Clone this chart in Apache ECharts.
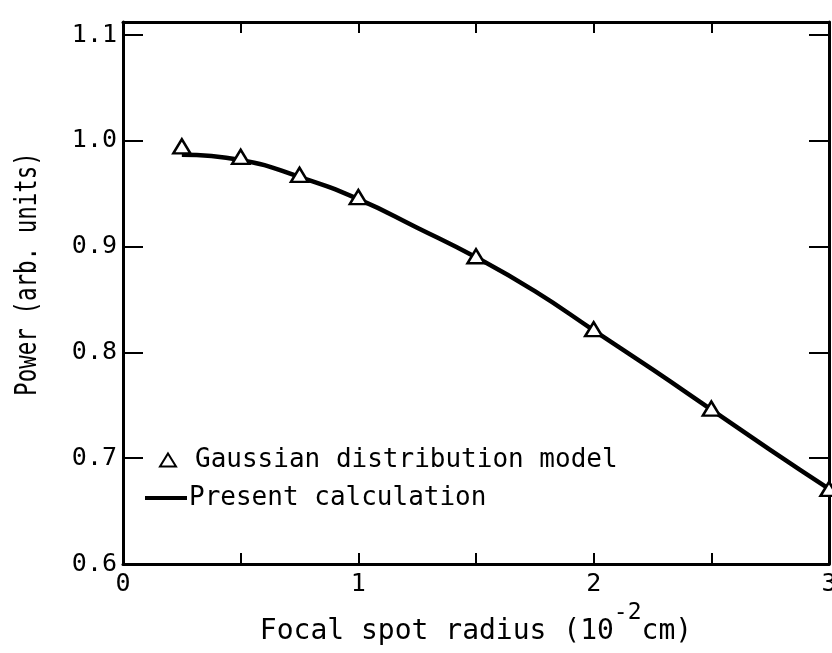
<!DOCTYPE html>
<html>
<head>
<meta charset="utf-8">
<script src="https://cdn.jsdelivr.net/npm/echarts@6/dist/echarts.min.js"></script>
<style>
  html, body { margin:0; padding:0; background:#fff; }
  #chart { width:832px; height:653px; }
</style>
</head>
<body>
<div id="chart"></div>
<script>
  // triangles: Gaussian distribution model
  var gaussX = [0.25, 0.5, 0.75, 1.0, 1.5, 2.0, 2.5, 3.0];
  var gaussY = [0.995, 0.985, 0.968, 0.947, 0.891, 0.822, 0.747, 0.671];
  // solid curve: present calculation
  var calcX = [0.25, 0.5, 0.75, 1.0, 1.25, 1.5, 1.75, 2.0, 2.25, 2.5, 2.75, 3.0];
  var calcY = [0.987, 0.982, 0.966, 0.945, 0.918, 0.890, 0.858, 0.821, 0.784, 0.746, 0.708, 0.671];

  var FONT = '"DejaVu Sans Mono", "Liberation Mono", monospace';

  var gauss = [];
  gaussX.forEach(function (x, i) { gauss.push([x, gaussY[i]]); });
  var calc = [];
  calcX.forEach(function (x, i) { calc.push([x, calcY[i]]); });

  var myChart = echarts.init(document.getElementById('chart'));

  // fresh objects every time, both axes of a pair get the same look
  function xAxisBase(pos) {
    return {
      type: 'value',
      position: pos,
      min: 0,
      max: 3,
      interval: 0.5,
      splitLine: { show: false },
      axisLine: { show: true, onZero: false, lineStyle: { color: '#000', width: 3 } },
      axisTick: { show: true, inside: true, length: 11, lineStyle: { color: '#000', width: 2 } },
      axisLabel: { show: false }
    };
  }
  function yAxisBase(pos) {
    return {
      type: 'value',
      position: pos,
      min: 0.6,
      max: 1.1125,
      interval: 0.1,
      splitLine: { show: false },
      axisLine: { show: true, onZero: false, lineStyle: { color: '#000', width: 3 } },
      axisTick: { show: true, inside: true, length: 20, lineStyle: { color: '#000', width: 2 } },
      axisLabel: { show: false }
    };
  }

  var xBottom = xAxisBase('bottom');
  xBottom.name = 'Focal spot radius (10{sup|-2}cm)';
  xBottom.nameLocation = 'middle';
  xBottom.nameGap = 38;
  xBottom.nameTextStyle = {
    fontFamily: FONT, fontSize: 28, color: '#000',
    rich: { sup: { fontFamily: FONT, fontSize: 23, color: '#000', padding: [0, 0, 36, 0] } }
  };
  xBottom.axisLabel = {
    show: true, margin: 8, fontFamily: FONT, fontSize: 25, color: '#000',
    formatter: function (v) { return Math.abs(v - Math.round(v)) < 1e-6 ? String(Math.round(v)) : ''; }
  };

  var yLeft = yAxisBase('left');
  yLeft.axisLabel = {
    show: true, margin: 6, fontFamily: FONT, fontSize: 25, color: '#000',
    formatter: function (v) {
      var r = Math.round(v * 10) / 10;
      return Math.abs(v - r) < 1e-6 ? r.toFixed(1) : '';
    }
  };

  var option = {
    animation: false,
    backgroundColor: '#fff',
    grid: { left: 123, right: 3, top: 22, bottom: 89, outerBoundsMode: 'none', containLabel: false },
    xAxis: [xBottom, xAxisBase('top')],
    yAxis: [yLeft, yAxisBase('right')],
    legend: [
      {
        left: 159, top: 447, padding: 0,
        itemWidth: 16, itemHeight: 13,
        data: [{ name: 'Gaussian distribution model', icon: 'triangle' }],
        itemStyle: { color: '#fff', borderColor: '#000', borderWidth: 2 },
        textStyle: { fontFamily: FONT, fontSize: 26, color: '#000', padding: [0, 0, 0, 14] }
      },
      {
        left: 145, top: 485, padding: 0,
        itemWidth: 42, itemHeight: 4,
        data: [{ name: 'Present calculation', icon: 'rect' }],
        itemStyle: { color: '#000', borderWidth: 0 },
        textStyle: { fontFamily: FONT, fontSize: 26, color: '#000', padding: [0, 0, 0, -3] }
      }
    ],
    graphic: [{
      type: 'text',
      x: 28, y: 274, rotation: Math.PI / 2, scaleX: 0.75,
      style: {
        text: 'Power (arb. units)', fontFamily: FONT, fontSize: 30, fill: '#000',
        align: 'center', verticalAlign: 'middle'
      }
    }],
    series: [
      {
        name: 'Present calculation',
        type: 'line',
        xAxisIndex: 0,
        yAxisIndex: 0,
        data: calc,
        smooth: true,
        symbol: 'none',
        lineStyle: { color: '#000', width: 4.5 },
        itemStyle: { color: '#000' },
        z: 2
      },
      {
        name: 'Gaussian distribution model',
        type: 'scatter',
        xAxisIndex: 0,
        yAxisIndex: 0,
        data: gauss,
        symbol: 'triangle',
        symbolSize: [17, 14],
        itemStyle: { color: '#fff', borderColor: '#000', borderWidth: 2.5, opacity: 1 },
        z: 3
      }
    ]
  };

  myChart.setOption(option, true);
</script>
</body>
</html>
